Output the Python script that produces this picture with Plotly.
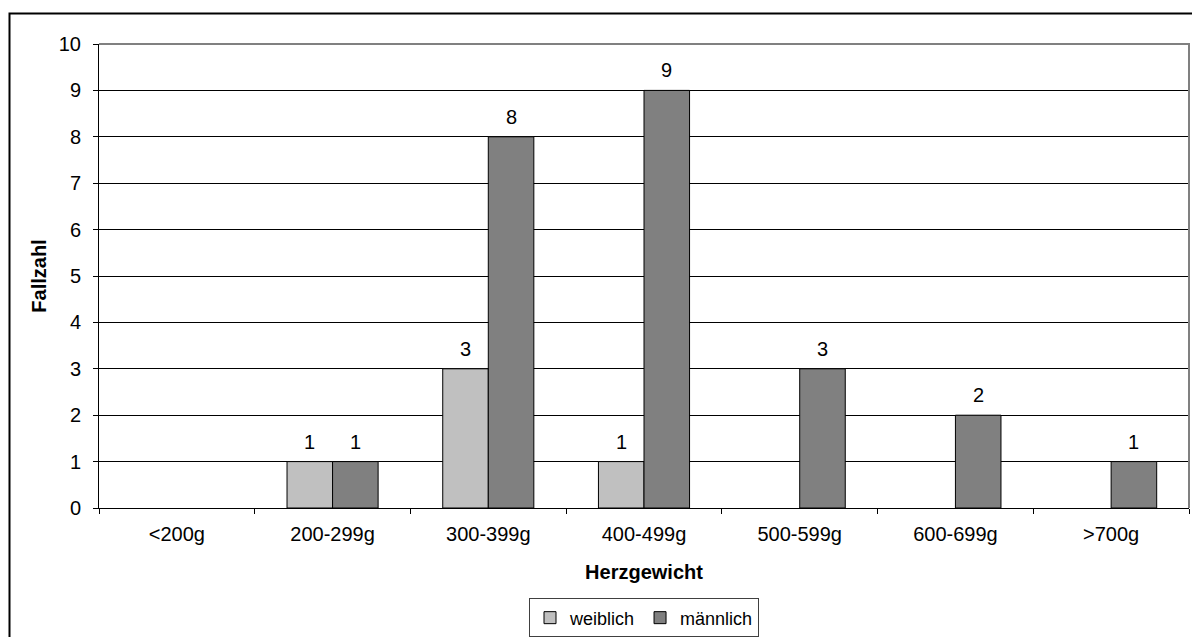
import plotly.graph_objects as go

# Heart weight distribution by sex
categories = ["<200g", "200-299g", "300-399g", "400-499g", "500-599g", "600-699g", ">700g"]
weiblich = [0, 1, 3, 1, 0, 0, 0]
maennlich = [0, 1, 8, 9, 3, 2, 1]
y_ticks = list(range(0, 11))

FONT = "Liberation Sans, Arial, sans-serif"
FS = 20
W, H = 1192, 637
M_L, M_R, M_T, M_B = 99, 3, 44, 129
PLOT_W = W - M_L - M_R
PLOT_H = H - M_T - M_B

BARGAP = 0.415
bar_px = PLOT_W / len(categories) * (1 - BARGAP) / 2


def hide_zero(values):
    # zero counts get no visible bar outline
    return [v if v else None for v in values]


fig = go.Figure()
fig.add_trace(go.Bar(
    name="weiblich", x=categories, y=hide_zero(weiblich),
    marker=dict(color="#C0C0C0", line=dict(color="black", width=1)),
))
fig.add_trace(go.Bar(
    name="männlich", x=categories, y=hide_zero(maennlich),
    marker=dict(color="#808080", line=dict(color="black", width=1)),
))

# value labels above the non-zero bars
annotations = []
for series, shift in ((weiblich, -bar_px / 2), (maennlich, bar_px / 2)):
    for cat, val in zip(categories, series):
        if val:
            annotations.append(dict(
                x=cat, y=val, xref="x", yref="y", text=str(val),
                showarrow=False, xshift=shift, yshift=20, yanchor="middle",
                font=dict(family=FONT, size=FS, color="black"),
            ))

# outer chart frame (top-left corner visible)
px_x = lambda p: (p - M_L) / PLOT_W
px_y = lambda p: (H - M_B - p) / PLOT_H
shapes = [
    dict(type="path", xref="paper", yref="paper",
         path=f"M {px_x(9.5)},{px_y(700)} L {px_x(9.5)},{px_y(13.5)} L {px_x(1220)},{px_y(13.5)}",
         line=dict(color="black", width=2)),
    # plot-area frame on the top and right side
    dict(type="path", xref="paper", yref="paper",
         path="M 0,1 L 1,1 L 1,0", line=dict(color="#808080", width=2), layer="above"),
]

fig.update_layout(
    width=W, height=H,
    margin=dict(l=M_L, r=M_R, t=M_T, b=M_B, autoexpand=False),
    paper_bgcolor="white", plot_bgcolor="white",
    barmode="group", bargap=BARGAP, bargroupgap=0,
    font=dict(family=FONT, size=FS, color="black"),
    showlegend=True,
    legend=dict(
        orientation="h", x=0.5, xanchor="center", y=-0.237, yanchor="middle",
        bordercolor="#404040", borderwidth=1, font=dict(size=18),
        itemwidth=30, tracegroupgap=0,
    ),
    xaxis=dict(
        type="category", tickson="boundaries", ticks="outside", ticklen=5,
        tickcolor="black", showline=True, linecolor="black", linewidth=1,
        showgrid=False, tickfont=dict(size=FS), ticklabelstandoff=8,
        title=dict(text="<b>Herzgewicht</b>", font=dict(size=FS), standoff=20),
    ),
    yaxis=dict(
        range=[0, 10], tickvals=y_ticks, ticks="outside", ticklen=5,
        tickcolor="black", showline=True, linecolor="black", linewidth=1,
        showgrid=True, gridcolor="black", gridwidth=1, zeroline=False,
        tickfont=dict(size=FS), ticklabelstandoff=8,
        title=dict(text="<b>Fallzahl</b>", font=dict(size=FS), standoff=6),
    ),
    annotations=annotations,
    shapes=shapes,
)

fig.write_html("out.html")
